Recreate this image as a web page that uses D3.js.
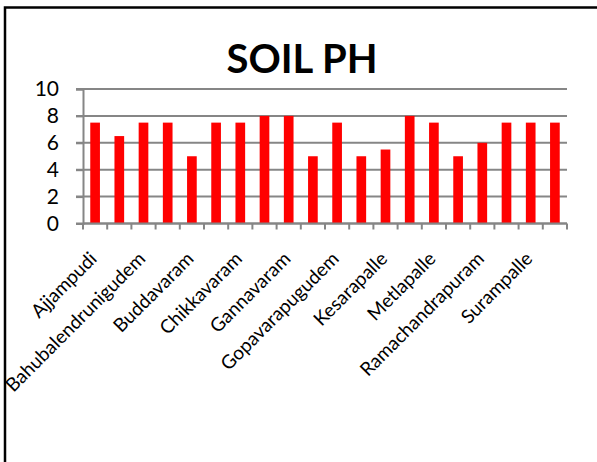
<!DOCTYPE html>
<html>
<head>
<meta charset="utf-8">
<title>SOIL PH</title>
<script src="https://d3js.org/d3.v7.min.js"></script>
<style>
  body { margin: 0; background: #fff; }
  svg { display: block; }
</style>
</head>
<body>
<svg width="597" height="462" font-family="Lato, 'Open Sans', sans-serif"></svg>
<script>

// villages, alphabetical; Excel only labelled every other one
var villages = ["Ajjampudi", "Ampapuram", "Bahubalendrunigudem", "Bapulapadu", "Buddavaram",
  "Chevuturu", "Chikkavaram", "Gandigunta", "Gannavaram", "Gollapudi",
  "Gopavarapugudem", "Kankipadu", "Kesarapalle", "Kondapavuluru", "Metlapalle",
  "Nunna", "Ramachandrapuram", "Savaragudem", "Surampalle", "Telaprolu"];
var ph = [7.5, 6.5, 7.5, 7.5, 5, 7.5, 7.5, 8, 8, 5,
  7.5, 5, 5.5, 8, 7.5, 5, 6, 7.5, 7.5, 7.5];
var yTicks = [0, 2, 4, 6, 8, 10];

var svg = d3.select("svg");

var plotL = 83, plotR = 567, plotT = 89, plotB = 223.5;

var x = d3.scaleBand()
    .domain(villages)
    .range([plotL, plotR])
    .paddingInner(0.6)
    .paddingOuter(0.3);

var y = d3.scaleLinear()
    .domain([0, 10])
    .range([plotB, plotT]);

// chart frame (only top and left edges show in the window)
svg.append("rect")
    .attr("x", 5)
    .attr("y", 7.5)
    .attr("width", 700)
    .attr("height", 600)
    .attr("fill", "none")
    .attr("stroke", "#000")
    .attr("stroke-width", 2.5);

svg.append("text")
    .attr("x", 302)
    .attr("y", 73)
    .attr("text-anchor", "middle")
    .attr("font-weight", "bold")
    .attr("font-size", 40)
    .text("SOIL PH");

// gridlines
svg.append("g")
  .selectAll("line")
  .data(yTicks)
  .enter().append("line")
    .attr("x1", plotL - 7)
    .attr("x2", plotR)
    .attr("y1", function(d) { return y(d); })
    .attr("y2", function(d) { return y(d); })
    .attr("stroke", "#868686")
    .attr("stroke-width", 2);

// y axis
var yAxis = svg.append("g")
    .attr("transform", "translate(" + plotL + ",0)")
    .call(d3.axisLeft(y).tickValues(yTicks).tickSize(7).tickPadding(17));
yAxis.select(".domain").attr("stroke", "#868686").attr("stroke-width", 2);
yAxis.selectAll(".tick line").attr("stroke", "#868686").attr("stroke-width", 2);
yAxis.selectAll("text")
    .attr("font-family", "Lato, 'Open Sans', sans-serif")
    .attr("font-size", 21)
    .attr("fill", "#000");

// bars
svg.append("g")
  .selectAll("rect")
  .data(ph)
  .enter().append("rect")
    .attr("x", function(d, i) { return x(villages[i]); })
    .attr("y", function(d) { return y(d); })
    .attr("width", x.bandwidth())
    .attr("height", function(d) { return y(0) - y(d); })
    .attr("fill", "#ff0000");

// x axis: ticks on category boundaries
var edges = d3.range(villages.length + 1).map(function(i) { return plotL + i * x.step(); });

svg.append("line")
    .attr("x1", plotL)
    .attr("x2", plotR)
    .attr("y1", plotB)
    .attr("y2", plotB)
    .attr("stroke", "#868686")
    .attr("stroke-width", 2);

svg.append("g")
  .selectAll("line")
  .data(edges)
  .enter().append("line")
    .attr("x1", function(d) { return d; })
    .attr("x2", function(d) { return d; })
    .attr("y1", plotB)
    .attr("y2", plotB + 6)
    .attr("stroke", "#868686")
    .attr("stroke-width", 2);

svg.append("g")
  .selectAll("text")
  .data(villages.filter(function(d, i) { return i % 2 === 0; }))
  .enter().append("text")
    .attr("transform", function(d) {
      return "translate(" + (x(d) + x.bandwidth() / 2 + 3) + "," + 260 + ") rotate(-45)";
    })
    .attr("text-anchor", "end")
    .attr("font-size", 19)
    .text(function(d) { return d; });

</script>
</body>
</html>
